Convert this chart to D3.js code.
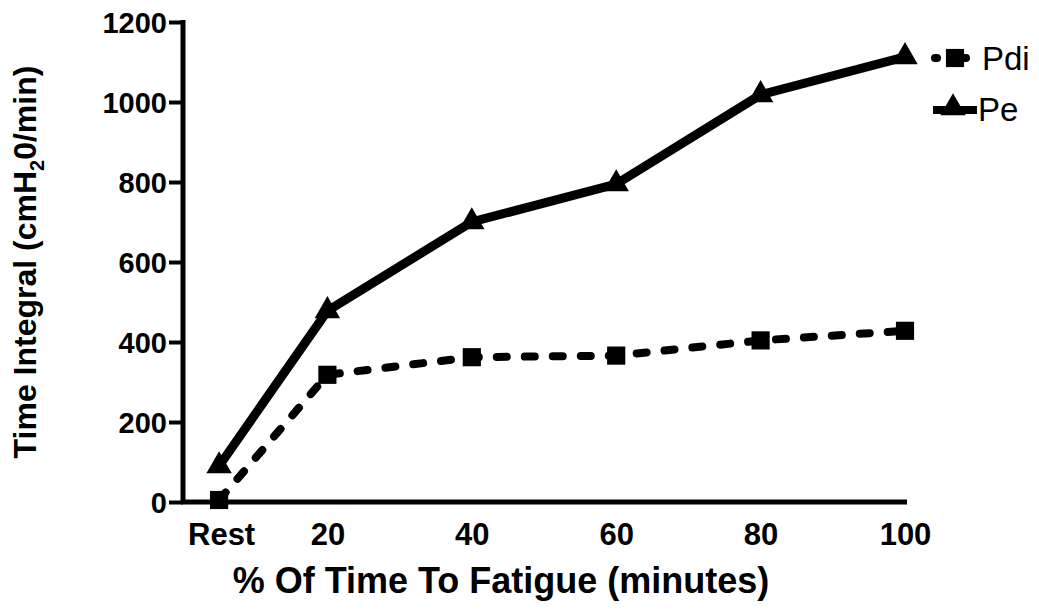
<!DOCTYPE html>
<html>
<head>
<meta charset="utf-8">
<script src="https://cdn.jsdelivr.net/npm/d3@7"></script>
<style>
body { margin: 0; background: #fff; }
text { font-family: "Liberation Sans", Arial, sans-serif; }
</style>
</head>
<body>
<div id="chart-container"></div>
<script>
// data
var xValues = [5, 20, 40, 60, 80, 100];
var xTickValues = [5, 20, 40, 60, 80, 100];
var xTickLabels = ["Rest", "20", "40", "60", "80", "100"];
var pdiValues = [5, 318, 362, 366, 404, 428];
var peValues = [90, 478, 700, 795, 1018, 1113];
var yTicks = [0, 200, 400, 600, 800, 1000, 1200];

var svg = d3.select("#chart-container")
    .append("svg")
    .attr("width", 1039)
    .attr("height", 610);

var xScale = d3.scaleLinear()
    .domain([0, 100])
    .range([183, 905]);
var yScale = d3.scaleLinear()
    .domain([0, 1200])
    .range([502, 22]);

// y axis
var yAxis = d3.axisLeft(yScale)
    .tickValues(yTicks)
    .tickSize(14)
    .tickPadding(2)
    .tickFormat(d3.format("d"));
var gy = svg.append("g")
    .attr("transform", "translate(" + xScale(0) + ",0)")
    .call(yAxis)
    .attr("font-size", null)
    .attr("font-family", null);
gy.select(".domain").remove();
gy.selectAll(".tick line").attr("stroke", "#000").attr("stroke-width", 4);
gy.selectAll(".tick text")
    .attr("fill", "#000")
    .style("font-size", "29px")
    .style("font-weight", "bold")
    .attr("dy", "0.36em");

svg.append("line")
    .attr("x1", xScale(0)).attr("x2", xScale(0))
    .attr("y1", yScale(1200) - 2).attr("y2", yScale(0) + 2)
    .attr("stroke", "#000").attr("stroke-width", 5);

// x axis
var xAxis = d3.axisBottom(xScale)
    .tickValues(xTickValues)
    .tickSize(0)
    .tickPadding(21)
    .tickFormat(function (d, i) { return xTickLabels[i]; });
var gx = svg.append("g")
    .attr("transform", "translate(0," + yScale(0) + ")")
    .call(xAxis)
    .attr("font-size", null)
    .attr("font-family", null);
gx.select(".domain").remove();
gx.selectAll(".tick text")
    .attr("fill", "#000")
    .style("font-size", "31px")
    .style("font-weight", "bold")
    .attr("dy", "0.71em");
gx.selectAll(".tick text").filter(function (d, i) { return i === 0; })
    .attr("dx", "2px");

svg.append("line")
    .attr("x1", xScale(0) - 2).attr("x2", xScale(100) + 2)
    .attr("y1", yScale(0)).attr("y2", yScale(0))
    .attr("stroke", "#000").attr("stroke-width", 5);

// axis titles
svg.append("text")
    .attr("x", 501)
    .attr("y", 593)
    .attr("text-anchor", "middle")
    .style("font-size", "36px")
    .style("font-weight", "bold")
    .text("% Of Time To Fatigue (minutes)");

var yTitle = svg.append("text")
    .attr("transform", "translate(36,262) rotate(-90)")
    .attr("text-anchor", "middle")
    .style("font-size", "32px")
    .style("font-weight", "bold");
yTitle.append("tspan").text("Time Integral (cmH");
yTitle.append("tspan").attr("dy", 8).style("font-size", "20px").text("2");
yTitle.append("tspan").attr("dy", -8).text("0/min)");

// series
var line = d3.line()
    .x(function (d) { return xScale(d.x); })
    .y(function (d) { return yScale(d.y); });

var peData = xValues.map(function (x, i) { return { x: x, y: peValues[i] }; });
var pdiData = xValues.map(function (x, i) { return { x: x, y: pdiValues[i] }; });

svg.append("path")
    .datum(pdiData)
    .attr("d", line)
    .attr("fill", "none")
    .attr("stroke", "#000")
    .attr("stroke-width", 8)
    .attr("stroke-linecap", "round")
    .attr("stroke-dasharray", "10,18");

svg.append("path")
    .datum(peData)
    .attr("d", line)
    .attr("fill", "none")
    .attr("stroke", "#000")
    .attr("stroke-width", 9)
    .attr("stroke-linejoin", "miter");

var square = d3.symbol().type(d3.symbolSquare).size(330);
var triangle = d3.symbol().type(d3.symbolTriangle).size(280);

svg.selectAll(".pdi-pt")
    .data(pdiData)
    .enter()
    .append("path")
    .attr("class", "pdi-pt")
    .attr("d", square)
    .attr("transform", function (d) { return "translate(" + xScale(d.x) + "," + yScale(d.y) + ")"; })
    .attr("fill", "#000");

svg.selectAll(".pe-pt")
    .data(peData)
    .enter()
    .append("path")
    .attr("class", "pe-pt")
    .attr("d", triangle)
    .attr("transform", function (d) { return "translate(" + xScale(d.x) + "," + yScale(d.y) + ")"; })
    .attr("fill", "#000");

// legend
var legend = svg.append("g");
legend.append("line")
    .attr("x1", 935).attr("x2", 937)
    .attr("y1", 58).attr("y2", 58)
    .attr("stroke", "#000").attr("stroke-width", 8)
    .attr("stroke-linecap", "round");
legend.append("line")
    .attr("x1", 958).attr("x2", 966)
    .attr("y1", 58).attr("y2", 58)
    .attr("stroke", "#000").attr("stroke-width", 8)
    .attr("stroke-linecap", "round");
legend.append("path")
    .attr("d", square)
    .attr("transform", "translate(955,58)")
    .attr("fill", "#000");
legend.append("text")
    .attr("x", 982).attr("y", 70)
    .style("font-size", "33px")
    .text("Pdi");

legend.append("line")
    .attr("x1", 933).attr("x2", 977)
    .attr("y1", 110).attr("y2", 110)
    .attr("stroke", "#000").attr("stroke-width", 8);
legend.append("path")
    .attr("d", triangle)
    .attr("transform", "translate(953,108)")
    .attr("fill", "#000");
legend.append("text")
    .attr("x", 978).attr("y", 121)
    .style("font-size", "33px")
    .text("Pe");
</script>
</body>
</html>
